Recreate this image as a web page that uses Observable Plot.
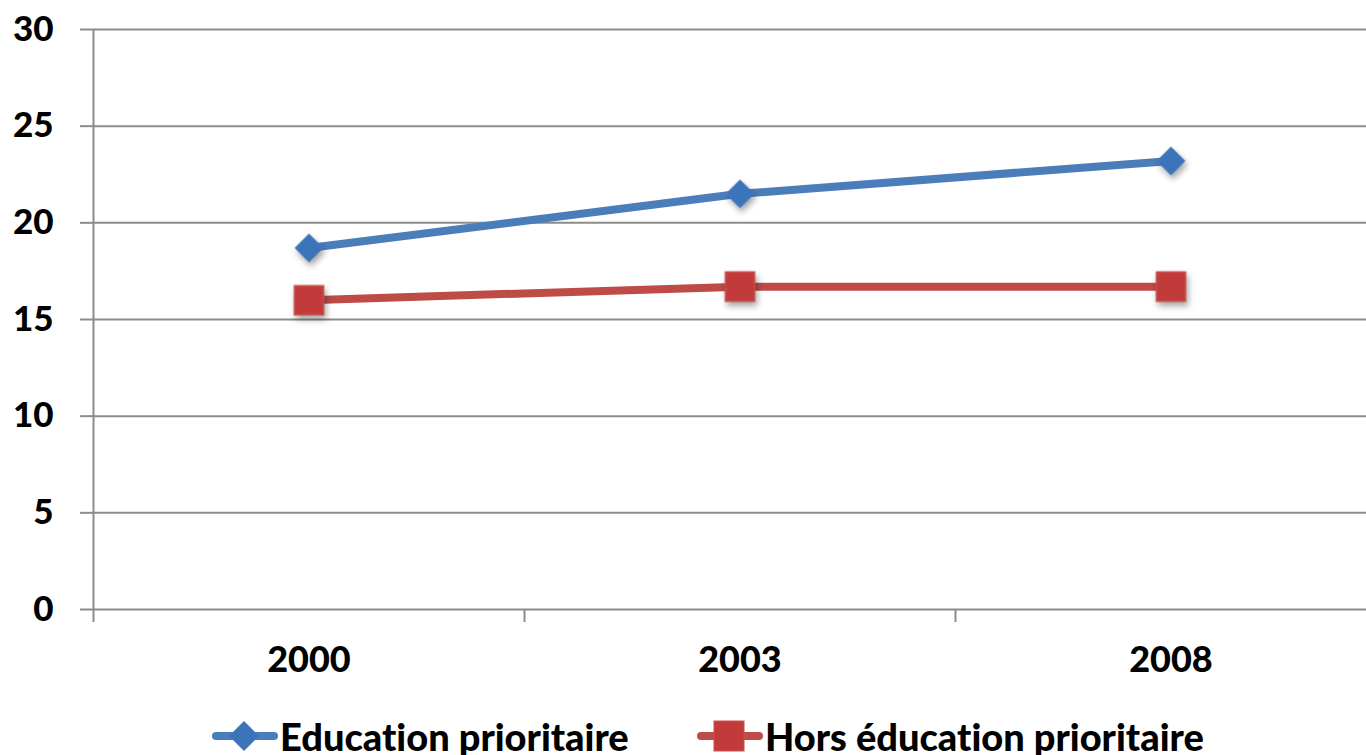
<!DOCTYPE html>
<html><head><meta charset="utf-8">
<script src="https://cdn.jsdelivr.net/npm/d3@7"></script>
<script src="https://cdn.jsdelivr.net/npm/@observablehq/plot@0.6"></script>
<style>
body{margin:0;background:#fff;overflow:hidden;font-family:Lato,"Open Sans",sans-serif;font-variant-ligatures:none;}
svg text{font-variant-ligatures:none;}
#wrap{position:relative;width:1366px;height:755px;overflow:hidden;}
.leg{position:absolute;top:714px;display:flex;align-items:center;font-weight:900;font-size:38px;white-space:nowrap;color:#000;line-height:44px;font-variant-ligatures:none;}
.leg svg{display:block;margin-right:2px;}
</style></head>
<body><div id="wrap"><div id="chart"></div></div>
<script>
const years = ["2000", "2003", "2008"];
const seriesNames = ["Education prioritaire", "Hors éducation prioritaire"];
const educationPrioritaire = [18.7, 21.5, 23.2];
const horsEducationPrioritaire = [16.0, 16.7, 16.7];
const yTicks = [0, 5, 10, 15, 20, 25, 30];
const colors = ["#4a7ebb", "#be4b48"];
const markerFill = ["#3b74bb", "#c23a3a"];

const rows = [];
[educationPrioritaire, horsEducationPrioritaire].forEach((vals, s) => {
  vals.forEach((v, i) => rows.push({series: seriesNames[s], idx: i, year: years[i], value: v}));
});

const chart = Plot.plot({
  width: 1366, height: 700,
  marginLeft: 93, marginRight: -20, marginTop: 29, marginBottom: 91,
  style: {fontFamily: "Lato, 'Open Sans', sans-serif", fontWeight: 900, fontSize: "36px", color: "#000", background: "transparent", overflow: "visible"},
  x: {type: "linear", domain: [-0.5, years.length - 0.5], axis: null},
  y: {domain: [0, 30], axis: null},
  color: {domain: seriesNames, range: colors},
  marks: [
    Plot.ruleY(yTicks, {stroke: "#8c8c8c", strokeWidth: 2}),
    Plot.axisY({ticks: yTicks, label: null, tickSize: 13, tickPadding: 27, stroke: "#8c8c8c", strokeWidth: 2, strokeOpacity: 1, fill: "#000", fontSize: 35, fontWeight: 900}),
    Plot.ruleX([-0.5], {y1: 0, y2: 30, stroke: "#8c8c8c", strokeWidth: 2}),
    Plot.axisX({ticks: d3.range(years.length + 1).map(i => i - 0.5), label: null, tickSize: 13, tickFormat: () => "", stroke: "#8c8c8c", strokeWidth: 2, strokeOpacity: 1}),
    Plot.axisX({ticks: d3.range(years.length), label: null, tickSize: 0, tickPadding: 37, tickFormat: i => years[i], fill: "#000", fontSize: 36, fontWeight: 900}),
    Plot.line(rows, {x: "idx", y: "value", z: "series", stroke: "series", strokeWidth: 8, strokeLinecap: "round", strokeLinejoin: "round"}),
    Plot.dot(rows.filter(d => d.series === seriesNames[0]), {x: "idx", y: "value", symbol: "diamond2", r: 12.6, fill: markerFill[0], stroke: colors[0], strokeWidth: 1}),
    Plot.dot(rows.filter(d => d.series === seriesNames[1]), {x: "idx", y: "value", symbol: "square", r: 16.4, fill: markerFill[1], stroke: "#c9504d", strokeWidth: 1.5})
  ]
});
document.getElementById("chart").appendChild(chart);
d3.select(chart).selectAll("g[aria-label=dot]").style("filter", "drop-shadow(2px 4px 3px rgba(0,0,0,0.35))");

// legend
const wrap = document.getElementById("wrap");
const legLeft = [212, 697];
seriesNames.forEach((name, s) => {
  const div = document.createElement("div");
  div.className = "leg";
  div.style.left = legLeft[s] + "px";
  const sym = s === 0
    ? `<path d="M32,3 L47,18 L32,33 L17,18 Z" fill="${markerFill[0]}"/>`
    : `<rect x="17" y="3" width="30" height="30" fill="${markerFill[1]}" stroke="#c9504d"/>`;
  div.innerHTML = `<svg width="66" height="36"><line x1="4" y1="18" x2="62" y2="18" stroke="${colors[s]}" stroke-width="8" stroke-linecap="round"/>${sym}</svg><span>${name}</span>`;
  wrap.appendChild(div);
});
</script></body></html>
